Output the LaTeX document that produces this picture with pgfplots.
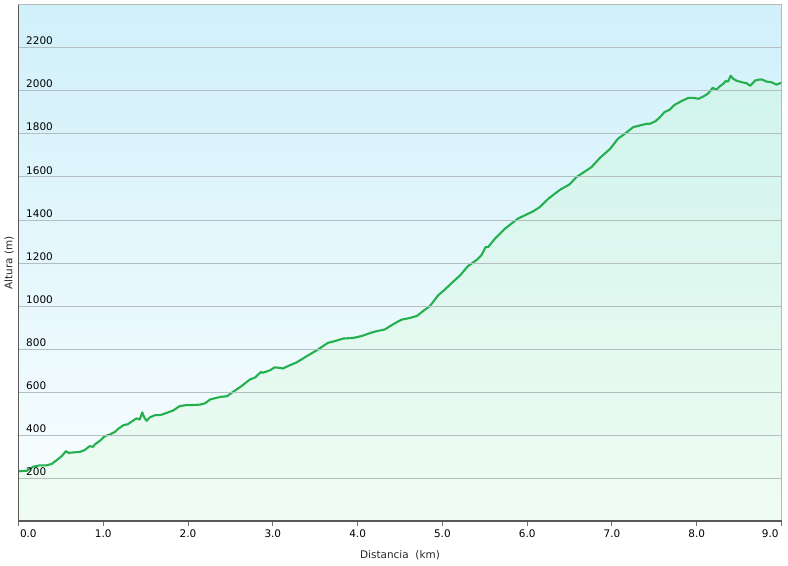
\documentclass[border=0pt]{standalone}
\usepackage{pgfplots}
\usepackage{pgfplotstable}
\pgfplotsset{compat=1.18}
\usepackage{fontspec}
\setmainfont{DejaVu Sans}
\definecolor{bgtop}{RGB}{208,240,250}
\definecolor{bgbot}{RGB}{250,254,255}
\definecolor{areatop}{RGB}{208,244,236}
\definecolor{areabot}{RGB}{240,252,243}
\definecolor{linegreen}{RGB}{36,176,78}
\definecolor{gridc}{RGB}{178,190,192}
\pgfplotstableread{
km m
0.00 230
0.01 233
0.10 235
0.17 253
0.25 260
0.33 260
0.39 266
0.45 284
0.51 303
0.56 326
0.59 318
0.65 320
0.73 323
0.78 331
0.84 349
0.88 346
0.90 357
0.96 374
1.02 396
1.08 404
1.14 416
1.18 431
1.24 447
1.29 451
1.33 462
1.39 478
1.43 473
1.46 506
1.48 485
1.51 467
1.55 483
1.61 493
1.67 493
1.75 504
1.83 516
1.90 535
1.98 540
2.04 540
2.14 542
2.20 548
2.26 566
2.38 578
2.46 581
2.53 601
2.63 628
2.73 659
2.79 668
2.86 694
2.88 690
2.97 702
3.02 715
3.08 713
3.12 710
3.20 725
3.28 738
3.40 767
3.52 795
3.65 829
3.73 837
3.83 849
3.95 852
4.05 861
4.15 875
4.22 883
4.32 891
4.40 911
4.48 929
4.52 937
4.62 945
4.70 954
4.77 976
4.85 999
4.89 1019
4.95 1050
5.03 1077
5.11 1107
5.21 1143
5.30 1185
5.40 1213
5.46 1236
5.51 1274
5.54 1274
5.62 1313
5.74 1360
5.89 1406
6.07 1440
6.15 1460
6.25 1499
6.39 1541
6.50 1565
6.58 1599
6.70 1630
6.76 1646
6.86 1689
6.98 1731
7.07 1777
7.15 1800
7.25 1831
7.33 1839
7.41 1847
7.45 1847
7.51 1858
7.56 1875
7.62 1901
7.68 1912
7.74 1935
7.82 1952
7.90 1967
7.96 1967
8.02 1963
8.08 1974
8.13 1986
8.19 2014
8.23 2005
8.27 2020
8.32 2035
8.34 2045
8.37 2043
8.40 2070
8.43 2056
8.47 2047
8.53 2040
8.59 2035
8.63 2023
8.69 2048
8.75 2053
8.78 2051
8.82 2043
8.88 2040
8.94 2029
9.00 2037
}\profile
\begin{document}
\fontsize{10.5}{12}\selectfont
\begin{tikzpicture}
\path[use as bounding box] (-18.5bp,-44.7bp) rectangle (769.5bp,521.3bp);
\begin{axis}[
  axis on top,
  at={(0,0)}, anchor=south west,
  scale only axis, width=763bp, height=516.6bp,
  xmin=0, xmax=9, ymin=0, ymax=2400,
  axis background/.style={top color=bgtop, bottom color=bgbot},
  axis line style={draw=black!28, line width=0.8bp},
  xtick={0,1,...,9},
  xticklabels={\makebox[0pt][l]{\hspace{1.5bp}0.0},1.0,2.0,3.0,4.0,5.0,6.0,7.0,8.0,\makebox[0pt][r]{9.0\hspace{3bp}}},
  ytick={200,400,...,2200},
  yticklabels={200,400,600,800,1000,1200,1400,1600,1800,2000,2200},
  tick align=outside,
  xtick pos=bottom,
  major tick length=5bp,
  x tick style={draw=black!55, line width=1bp},
  y tick style={draw=none},
  ymajorgrids,
  grid style={draw=gridc, line width=0.8bp},
  yticklabel style={anchor=south west, inner sep=0pt, xshift=12.5bp, yshift=2.5bp},
  xticklabel style={text=black},
  xlabel={Distancia\ \ (km)},
  ylabel={Altura (m)},
  xlabel style={at={(axis description cs:0.5,-0.0658)}, anchor=center, text=black!85},
  ylabel style={at={(axis description cs:-0.01245,0.5)}, anchor=center, text=black!85},
  clip=true,
]
\addplot[draw=none, top color=areatop, bottom color=areabot] table[x=km,y=m] {\profile} \closedcycle;
\addplot[linegreen, line width=2.1bp, mark=none, line join=round] table[x=km,y=m] {\profile};
\end{axis}
\draw[black!65, line width=1.6bp] (0,516.6bp) -- (0,0) -- (763bp,0);
\end{tikzpicture}
\end{document}
